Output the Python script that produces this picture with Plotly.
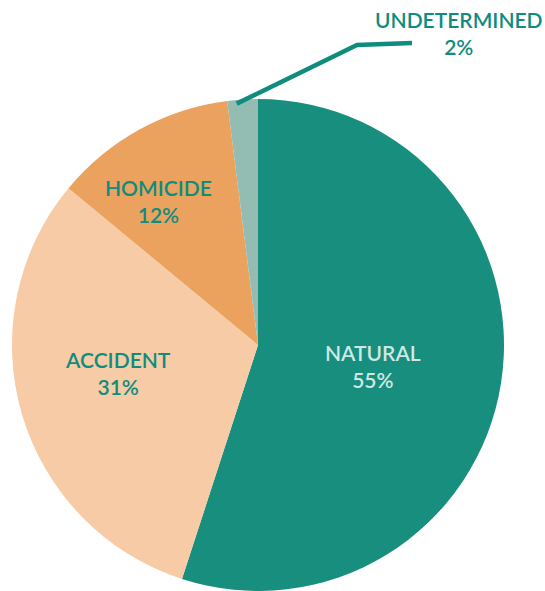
import math
import plotly.graph_objects as go

categories = ["NATURAL", "ACCIDENT", "HOMICIDE", "UNDETERMINED"]
values = [55, 31, 12, 2]
colors = ["#178E7E", "#F6CBA5", "#EBA25F", "#93BDB3"]
text_colors = ["#CFE8E3", "#0E8C7D", "#0E8C7D", "#0E8C7D"]

W, H = 545, 591
L, R, T, B = 11, 40, 99, 0
PW, PH = W - L - R, H - T - B
CX, CY = L + PW / 2, T + PH / 2
RAD = min(PW, PH) / 2

def px2paper(x, y):
    return (x - L) / PW, 1 - (y - T) / PH

def polar(frac, rf):
    a = 2 * math.pi * frac
    return CX + RAD * rf * math.sin(a), CY - RAD * rf * math.cos(a)

fig = go.Figure(go.Pie(
    labels=categories, values=values, sort=False, direction="clockwise",
    rotation=0, marker=dict(colors=colors, line=dict(width=0)),
    textinfo="none", hoverinfo="label+percent", showlegend=False,
    domain=dict(x=[0, 1], y=[0, 1]),
))

total = sum(values)
label_pos = {"NATURAL": (373, 366), "ACCIDENT": (118, 373), "HOMICIDE": (158, 201),
             "UNDETERMINED": (459, 33)}
ann = []
for c, v, tc in zip(categories, values, text_colors):
    x, y = px2paper(*label_pos[c])
    ann.append(dict(x=x, y=y, xref="paper", yref="paper", showarrow=False,
                    text=f"{c}<br>{round(100 * v / total)}%", align="center",
                    font=dict(family="Lato", size=21, color=tc, weight=600),
                    xanchor="center", yanchor="middle"))

cum = sum(values[:-1]) / total
mid = cum + values[-1] / total / 2
sx, sy = polar(mid - 0.004, 0.985)
pts = [(sx, sy), (357, 45), (412, 43)]
path = "M " + " L ".join(f"{px2paper(x, y)[0]},{px2paper(x, y)[1]}" for x, y in pts)
fig.update_layout(
    width=W, height=H, margin=dict(l=L, r=R, t=T, b=B),
    paper_bgcolor="white", plot_bgcolor="white",
    annotations=ann,
    shapes=[dict(type="path", path=path, xref="paper", yref="paper",
                 line=dict(color="#0E8C7D", width=4.5))],
)
fig.write_html("out.html", config={"displayModeBar": False},
               post_script="document.body.style.margin='0px';document.body.style.overflow='hidden';")
